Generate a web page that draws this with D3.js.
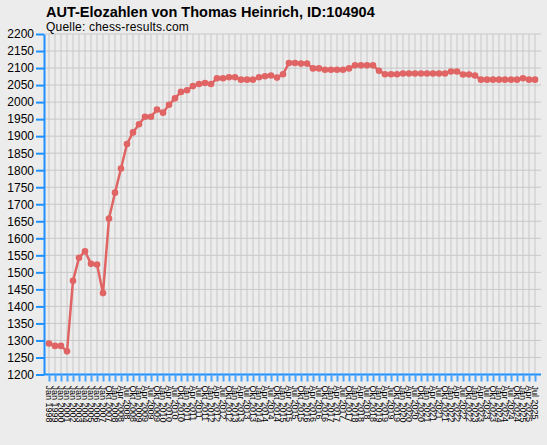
<!DOCTYPE html>
<html>
<head>
<meta charset="utf-8">
<script src="https://cdn.jsdelivr.net/npm/d3@7"></script>
<style>
  body { margin: 0; background: #ececec; }
  svg { display: block; font-family: "Liberation Sans", Arial, sans-serif; }
</style>
</head>
<body>
<svg id="chart" width="547" height="445"></svg>
<script>
let periods = [
  'Jan 1998', 'Jan 1999', 'Jan 2000', 'Jan 2001', 'Jan 2002', 'Jan 2003', 'Jan 2004', 'Jan 2005', 'Jan 2006', 'Jan 2007',
  'Okt 2007',
  'Jan 2008', 'Apr 2008', 'Jul 2008', 'Okt 2008',
  'Jan 2009', 'Apr 2009', 'Jul 2009', 'Okt 2009',
  'Jan 2010', 'Apr 2010', 'Jul 2010', 'Okt 2010',
  'Jan 2011', 'Apr 2011', 'Jul 2011', 'Okt 2011',
  'Jan 2012', 'Apr 2012', 'Jul 2012', 'Okt 2012',
  'Jan 2013', 'Apr 2013', 'Jul 2013', 'Okt 2013',
  'Jan 2014', 'Apr 2014', 'Jul 2014', 'Okt 2014',
  'Jan 2015', 'Apr 2015', 'Jul 2015', 'Okt 2015',
  'Jan 2016', 'Apr 2016', 'Jul 2016', 'Okt 2016',
  'Jan 2017', 'Apr 2017', 'Jul 2017', 'Okt 2017',
  'Jan 2018', 'Apr 2018', 'Jul 2018', 'Okt 2018',
  'Jan 2019', 'Apr 2019', 'Jul 2019', 'Okt 2019',
  'Jan 2020', 'Apr 2020', 'Jul 2020', 'Okt 2020',
  'Jan 2021', 'Apr 2021', 'Jul 2021', 'Okt 2021',
  'Jan 2022', 'Apr 2022', 'Jul 2022', 'Okt 2022',
  'Jan 2023', 'Apr 2023', 'Jul 2023', 'Okt 2023',
  'Jan 2024', 'Apr 2024', 'Jul 2024', 'Okt 2024',
  'Jan 2025', 'Apr 2025', 'Jul 2025'
]

let elo = [
  1291, 1284, 1284, 1268, 1475, 1543, 1562, 1525, 1523, 1439,
  1658, 1734, 1805, 1877, 1911, 1935, 1957, 1957, 1978, 1969,
  1992, 2011, 2030, 2035, 2047, 2053, 2056, 2053, 2070, 2070,
  2073, 2073, 2066, 2066, 2066, 2073, 2076, 2078, 2072, 2082,
  2115, 2115, 2113, 2113, 2099, 2099, 2095, 2095, 2095, 2095,
  2099, 2108, 2108, 2108, 2108, 2092, 2082, 2082, 2082, 2084,
  2084, 2084, 2084, 2084, 2084, 2084, 2084, 2090, 2090, 2081,
  2081, 2078, 2066, 2066, 2066, 2066, 2066, 2066, 2066, 2070,
  2066, 2066
]

let yTicks = [1200, 1250, 1300, 1350, 1400, 1450, 1500, 1550, 1600, 1650, 1700,
  1750, 1800, 1850, 1900, 1950, 2000, 2050, 2100, 2150, 2200]

let title = 'AUT-Elozahlen von Thomas Heinrich, ID:104904'
let subtitle = 'Quelle: chess-results.com'

let svg = d3.select('#chart')
let axisBlue = '#1e90ff'
let lineRed = '#e06464'

let plotLeft = 44, plotRight = 541, plotTop = 34, plotBottom = 374.5

let xScale = d3.scalePoint()
  .domain(periods)
  .range([49, 535])

let yScale = d3.scaleLinear()
  .domain([1200, 2200])
  .range([plotBottom, plotTop])

svg.append('rect')
  .attr('width', 547)
  .attr('height', 445)
  .attr('fill', '#ececec')

// grid
svg.append('g')
  .selectAll('line')
  .data(yTicks)
  .enter()
  .append('line')
  .attr('x1', plotLeft)
  .attr('x2', plotRight)
  .attr('y1', (d) => yScale(d))
  .attr('y2', (d) => yScale(d))
  .attr('stroke', '#c8c8c8')

svg.append('g')
  .selectAll('line')
  .data(periods)
  .enter()
  .append('line')
  .attr('x1', (d) => xScale(d))
  .attr('x2', (d) => xScale(d))
  .attr('y1', plotTop)
  .attr('y2', plotBottom)
  .attr('stroke', '#c8c8c8')

// axes
let yAxis = d3.axisLeft(yScale)
  .tickValues(yTicks)
  .tickFormat(d3.format('d'))
  .tickSize(8)
  .tickSizeOuter(0)
  .tickPadding(2)

let yG = svg.append('g')
  .attr('transform', `translate(${plotLeft}, 0)`)
  .call(yAxis)
yG.select('.domain').attr('stroke', axisBlue).attr('stroke-width', 2)
yG.selectAll('.tick line').attr('stroke', axisBlue).attr('stroke-width', 2)
yG.selectAll('.tick text')
  .attr('fill', '#000')
  .style('font-size', '12px')
  .style('font-family', '"Liberation Sans", Arial, sans-serif')

let xAxis = d3.axisBottom(xScale)
  .tickSize(7)
  .tickSizeOuter(0)

let xG = svg.append('g')
  .attr('transform', `translate(0, ${plotBottom})`)
  .call(xAxis)
xG.select('.domain')
  .attr('d', `M${plotLeft},0H${plotRight}`)
  .attr('stroke', axisBlue)
  .attr('stroke-width', 2)
xG.selectAll('.tick line').attr('stroke', '#4aa6ff').attr('stroke-width', 2)
xG.selectAll('.tick text')
  .attr('y', 0)
  .attr('x', 0)
  .attr('dy', '0.35em')
  .attr('transform', 'translate(0, 11) rotate(90)')
  .attr('text-anchor', 'start')
  .attr('fill', '#000')
  .style('font-size', '9px')
  .style('font-family', '"Liberation Sans", Arial, sans-serif')

// series
let line = d3.line()
  .x((d, i) => xScale(periods[i]))
  .y((d) => yScale(d))

svg.append('path')
  .datum(elo)
  .attr('d', line)
  .attr('fill', 'none')
  .attr('stroke', lineRed)
  .attr('stroke-width', 2.5)
  .attr('stroke-linejoin', 'round')

svg.append('g')
  .selectAll('circle')
  .data(elo)
  .enter()
  .append('circle')
  .attr('cx', (d, i) => xScale(periods[i]))
  .attr('cy', (d) => yScale(d))
  .attr('r', 3.3)
  .attr('fill', lineRed)

// titles
svg.append('text')
  .text(title)
  .attr('x', 46)
  .attr('y', 17)
  .style('font-size', '14.5px')
  .style('font-weight', 'bold')

svg.append('text')
  .text(subtitle)
  .attr('x', 46)
  .attr('y', 31)
  .style('font-size', '12px')
  .style('letter-spacing', '0.2px')
</script>
</body>
</html>
